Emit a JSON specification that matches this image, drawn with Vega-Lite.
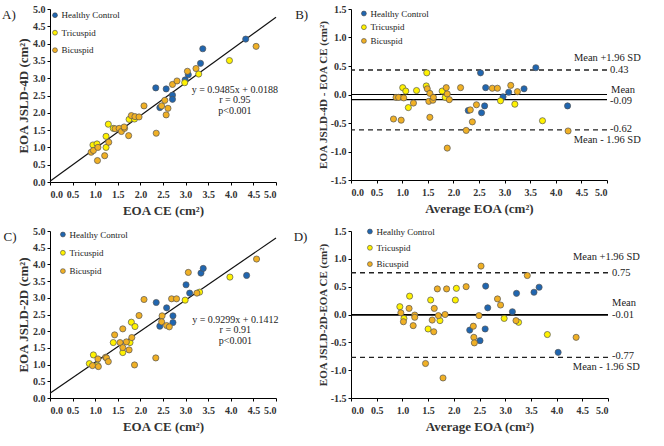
{
  "$schema": "https://vega.github.io/schema/vega-lite/v6.json",
  "background": "white",
  "padding": {"left": 2, "top": 4, "right": 5, "bottom": 5},
  "config": {
    "locale": {"number": {"decimal": ".", "thousands": ",", "grouping": [3], "currency": ["$", ""], "minus": "-"}},
    "view": {"stroke": null},
    "font": "Liberation Serif",
    "axis": {
      "labelFont": "Liberation Serif", "labelFontWeight": "bold", "labelFontSize": 10, "labelColor": "#333",
      "titleFont": "Liberation Serif", "titleFontWeight": "bold", "titleFontSize": 13, "titleColor": "#333",
      "domainColor": "#000", "domainWidth": 1, "tickColor": "#000", "tickSize": 3, "grid": false,
      "labelPadding": 2, "titlePadding": 2, "labelOverlap": false
    },
    "axisX": {"labelPadding": 4, "titlePadding": 5},
    "legend": {
      "title": null, "padding": 0, "symbolSize": 24, "symbolType": "circle",
      "symbolStrokeColor": "#444", "symbolStrokeWidth": 0.6,
      "labelFont": "Liberation Serif", "labelFontSize": 9, "labelColor": "#222", "labelOffset": 2
    },
    "title": {"font": "Liberation Serif", "fontSize": 13, "fontWeight": "normal", "color": "#222"}
  },
  "datasets": {
    "a": [
      {"x": 2.34, "y": 2.72, "group": "Healthy Control"},
      {"x": 3.38, "y": 3.85, "group": "Healthy Control"},
      {"x": 2.57, "y": 2.69, "group": "Healthy Control"},
      {"x": 3.33, "y": 3.43, "group": "Healthy Control"},
      {"x": 3.06, "y": 3.10, "group": "Healthy Control"},
      {"x": 2.99, "y": 2.95, "group": "Healthy Control"},
      {"x": 2.71, "y": 2.51, "group": "Healthy Control"},
      {"x": 2.71, "y": 2.39, "group": "Healthy Control"},
      {"x": 4.33, "y": 4.13, "group": "Healthy Control"},
      {"x": 2.43, "y": 2.15, "group": "Healthy Control"},
      {"x": 1.29, "y": 1.67, "group": "Tricuspid"},
      {"x": 0.95, "y": 1.07, "group": "Tricuspid"},
      {"x": 1.04, "y": 1.10, "group": "Tricuspid"},
      {"x": 1.24, "y": 1.32, "group": "Tricuspid"},
      {"x": 1.40, "y": 1.55, "group": "Tricuspid"},
      {"x": 1.75, "y": 1.81, "group": "Tricuspid"},
      {"x": 1.87, "y": 1.82, "group": "Tricuspid"},
      {"x": 1.24, "y": 1.00, "group": "Tricuspid"},
      {"x": 2.98, "y": 2.87, "group": "Tricuspid"},
      {"x": 3.29, "y": 3.12, "group": "Tricuspid"},
      {"x": 3.97, "y": 3.51, "group": "Tricuspid"},
      {"x": 0.91, "y": 0.86, "group": "Bicuspid"},
      {"x": 0.96, "y": 0.91, "group": "Bicuspid"},
      {"x": 1.06, "y": 1.00, "group": "Bicuspid"},
      {"x": 1.30, "y": 1.15, "group": "Bicuspid"},
      {"x": 1.44, "y": 1.54, "group": "Bicuspid"},
      {"x": 1.53, "y": 1.55, "group": "Bicuspid"},
      {"x": 1.58, "y": 1.46, "group": "Bicuspid"},
      {"x": 1.65, "y": 1.55, "group": "Bicuspid"},
      {"x": 1.64, "y": 1.59, "group": "Bicuspid"},
      {"x": 1.80, "y": 1.92, "group": "Bicuspid"},
      {"x": 1.88, "y": 1.89, "group": "Bicuspid"},
      {"x": 1.97, "y": 1.88, "group": "Bicuspid"},
      {"x": 2.08, "y": 2.20, "group": "Bicuspid"},
      {"x": 1.05, "y": 0.62, "group": "Bicuspid"},
      {"x": 1.21, "y": 0.76, "group": "Bicuspid"},
      {"x": 1.74, "y": 1.34, "group": "Bicuspid"},
      {"x": 2.35, "y": 1.41, "group": "Bicuspid"},
      {"x": 2.57, "y": 1.94, "group": "Bicuspid"},
      {"x": 2.61, "y": 2.13, "group": "Bicuspid"},
      {"x": 2.47, "y": 2.20, "group": "Bicuspid"},
      {"x": 2.54, "y": 2.36, "group": "Bicuspid"},
      {"x": 2.71, "y": 2.82, "group": "Bicuspid"},
      {"x": 2.81, "y": 2.92, "group": "Bicuspid"},
      {"x": 3.04, "y": 3.20, "group": "Bicuspid"},
      {"x": 3.23, "y": 3.28, "group": "Bicuspid"},
      {"x": 4.56, "y": 3.92, "group": "Bicuspid"}
    ],
    "b": [
      {"avg": 2.53, "diff": 0.38, "group": "Healthy Control"},
      {"avg": 3.61, "diff": 0.47, "group": "Healthy Control"},
      {"avg": 2.63, "diff": 0.12, "group": "Healthy Control"},
      {"avg": 3.38, "diff": 0.10, "group": "Healthy Control"},
      {"avg": 3.08, "diff": 0.04, "group": "Healthy Control"},
      {"avg": 2.97, "diff": -0.04, "group": "Healthy Control"},
      {"avg": 2.61, "diff": -0.20, "group": "Healthy Control"},
      {"avg": 2.55, "diff": -0.32, "group": "Healthy Control"},
      {"avg": 4.23, "diff": -0.20, "group": "Healthy Control"},
      {"avg": 2.29, "diff": -0.28, "group": "Healthy Control"},
      {"avg": 1.48, "diff": 0.38, "group": "Tricuspid"},
      {"avg": 1.01, "diff": 0.12, "group": "Tricuspid"},
      {"avg": 1.07, "diff": 0.06, "group": "Tricuspid"},
      {"avg": 1.28, "diff": 0.07, "group": "Tricuspid"},
      {"avg": 1.47, "diff": 0.15, "group": "Tricuspid"},
      {"avg": 1.78, "diff": 0.06, "group": "Tricuspid"},
      {"avg": 1.84, "diff": -0.05, "group": "Tricuspid"},
      {"avg": 1.12, "diff": -0.23, "group": "Tricuspid"},
      {"avg": 2.92, "diff": -0.11, "group": "Tricuspid"},
      {"avg": 3.20, "diff": -0.17, "group": "Tricuspid"},
      {"avg": 3.74, "diff": -0.46, "group": "Tricuspid"},
      {"avg": 0.88, "diff": -0.05, "group": "Bicuspid"},
      {"avg": 0.93, "diff": -0.05, "group": "Bicuspid"},
      {"avg": 1.03, "diff": -0.06, "group": "Bicuspid"},
      {"avg": 1.22, "diff": -0.15, "group": "Bicuspid"},
      {"avg": 1.49, "diff": 0.10, "group": "Bicuspid"},
      {"avg": 1.54, "diff": 0.02, "group": "Bicuspid"},
      {"avg": 1.52, "diff": -0.12, "group": "Bicuspid"},
      {"avg": 1.60, "diff": -0.10, "group": "Bicuspid"},
      {"avg": 1.61, "diff": -0.05, "group": "Bicuspid"},
      {"avg": 1.86, "diff": 0.12, "group": "Bicuspid"},
      {"avg": 1.88, "diff": 0.01, "group": "Bicuspid"},
      {"avg": 1.92, "diff": -0.09, "group": "Bicuspid"},
      {"avg": 2.14, "diff": 0.12, "group": "Bicuspid"},
      {"avg": 0.83, "diff": -0.43, "group": "Bicuspid"},
      {"avg": 0.98, "diff": -0.45, "group": "Bicuspid"},
      {"avg": 1.54, "diff": -0.40, "group": "Bicuspid"},
      {"avg": 1.88, "diff": -0.94, "group": "Bicuspid"},
      {"avg": 2.25, "diff": -0.63, "group": "Bicuspid"},
      {"avg": 2.37, "diff": -0.48, "group": "Bicuspid"},
      {"avg": 2.33, "diff": -0.27, "group": "Bicuspid"},
      {"avg": 2.45, "diff": -0.18, "group": "Bicuspid"},
      {"avg": 2.76, "diff": 0.11, "group": "Bicuspid"},
      {"avg": 2.86, "diff": 0.11, "group": "Bicuspid"},
      {"avg": 3.12, "diff": 0.16, "group": "Bicuspid"},
      {"avg": 3.25, "diff": 0.05, "group": "Bicuspid"},
      {"avg": 4.24, "diff": -0.64, "group": "Bicuspid"}
    ],
    "c": [
      {"x": 2.35, "y": 2.86, "group": "Healthy Control"},
      {"x": 2.58, "y": 2.70, "group": "Healthy Control"},
      {"x": 3.01, "y": 3.39, "group": "Healthy Control"},
      {"x": 3.34, "y": 3.74, "group": "Healthy Control"},
      {"x": 3.39, "y": 3.88, "group": "Healthy Control"},
      {"x": 3.09, "y": 3.14, "group": "Healthy Control"},
      {"x": 2.43, "y": 2.15, "group": "Healthy Control"},
      {"x": 2.72, "y": 2.46, "group": "Healthy Control"},
      {"x": 2.72, "y": 2.26, "group": "Healthy Control"},
      {"x": 4.35, "y": 3.67, "group": "Healthy Control"},
      {"x": 0.87, "y": 1.03, "group": "Tricuspid"},
      {"x": 0.96, "y": 1.29, "group": "Tricuspid"},
      {"x": 1.05, "y": 0.98, "group": "Tricuspid"},
      {"x": 1.40, "y": 1.66, "group": "Tricuspid"},
      {"x": 1.61, "y": 1.36, "group": "Tricuspid"},
      {"x": 1.77, "y": 1.66, "group": "Tricuspid"},
      {"x": 1.80, "y": 2.27, "group": "Tricuspid"},
      {"x": 1.88, "y": 2.14, "group": "Tricuspid"},
      {"x": 2.99, "y": 2.93, "group": "Tricuspid"},
      {"x": 3.31, "y": 3.17, "group": "Tricuspid"},
      {"x": 3.98, "y": 3.62, "group": "Tricuspid"},
      {"x": 2.08, "y": 2.95, "group": "Bicuspid"},
      {"x": 3.06, "y": 3.76, "group": "Bicuspid"},
      {"x": 1.97, "y": 2.47, "group": "Bicuspid"},
      {"x": 1.43, "y": 1.89, "group": "Bicuspid"},
      {"x": 1.61, "y": 2.07, "group": "Bicuspid"},
      {"x": 2.69, "y": 2.97, "group": "Bicuspid"},
      {"x": 2.80, "y": 2.97, "group": "Bicuspid"},
      {"x": 1.06, "y": 1.17, "group": "Bicuspid"},
      {"x": 1.55, "y": 1.66, "group": "Bicuspid"},
      {"x": 0.94, "y": 0.97, "group": "Bicuspid"},
      {"x": 1.23, "y": 1.22, "group": "Bicuspid"},
      {"x": 1.25, "y": 1.20, "group": "Bicuspid"},
      {"x": 1.69, "y": 1.68, "group": "Bicuspid"},
      {"x": 1.81, "y": 1.81, "group": "Bicuspid"},
      {"x": 2.48, "y": 2.46, "group": "Bicuspid"},
      {"x": 1.07, "y": 0.94, "group": "Bicuspid"},
      {"x": 1.29, "y": 1.09, "group": "Bicuspid"},
      {"x": 1.61, "y": 1.51, "group": "Bicuspid"},
      {"x": 1.75, "y": 1.44, "group": "Bicuspid"},
      {"x": 2.47, "y": 2.28, "group": "Bicuspid"},
      {"x": 2.58, "y": 2.17, "group": "Bicuspid"},
      {"x": 2.64, "y": 2.13, "group": "Bicuspid"},
      {"x": 3.25, "y": 3.14, "group": "Bicuspid"},
      {"x": 4.57, "y": 4.16, "group": "Bicuspid"},
      {"x": 1.87, "y": 0.99, "group": "Bicuspid"},
      {"x": 2.34, "y": 1.20, "group": "Bicuspid"}
    ],
    "d": [
      {"avg": 2.62, "diff": 0.51, "group": "Healthy Control"},
      {"avg": 2.66, "diff": 0.12, "group": "Healthy Control"},
      {"avg": 3.22, "diff": 0.38, "group": "Healthy Control"},
      {"avg": 3.56, "diff": 0.40, "group": "Healthy Control"},
      {"avg": 3.66, "diff": 0.49, "group": "Healthy Control"},
      {"avg": 3.14, "diff": 0.05, "group": "Healthy Control"},
      {"avg": 2.31, "diff": -0.28, "group": "Healthy Control"},
      {"avg": 2.61, "diff": -0.26, "group": "Healthy Control"},
      {"avg": 2.51, "diff": -0.47, "group": "Healthy Control"},
      {"avg": 4.03, "diff": -0.68, "group": "Healthy Control"},
      {"avg": 0.95, "diff": 0.14, "group": "Tricuspid"},
      {"avg": 1.14, "diff": 0.33, "group": "Tricuspid"},
      {"avg": 1.03, "diff": -0.07, "group": "Tricuspid"},
      {"avg": 1.55, "diff": 0.26, "group": "Tricuspid"},
      {"avg": 1.50, "diff": -0.26, "group": "Tricuspid"},
      {"avg": 1.73, "diff": -0.11, "group": "Tricuspid"},
      {"avg": 2.05, "diff": 0.47, "group": "Tricuspid"},
      {"avg": 2.03, "diff": 0.26, "group": "Tricuspid"},
      {"avg": 2.98, "diff": -0.07, "group": "Tricuspid"},
      {"avg": 3.26, "diff": -0.14, "group": "Tricuspid"},
      {"avg": 3.82, "diff": -0.36, "group": "Tricuspid"},
      {"avg": 2.53, "diff": 0.87, "group": "Bicuspid"},
      {"avg": 3.43, "diff": 0.70, "group": "Bicuspid"},
      {"avg": 2.24, "diff": 0.50, "group": "Bicuspid"},
      {"avg": 1.68, "diff": 0.46, "group": "Bicuspid"},
      {"avg": 1.86, "diff": 0.46, "group": "Bicuspid"},
      {"avg": 2.85, "diff": 0.28, "group": "Bicuspid"},
      {"avg": 2.91, "diff": 0.17, "group": "Bicuspid"},
      {"avg": 1.13, "diff": 0.11, "group": "Bicuspid"},
      {"avg": 1.62, "diff": 0.11, "group": "Bicuspid"},
      {"avg": 0.97, "diff": 0.03, "group": "Bicuspid"},
      {"avg": 1.24, "diff": -0.01, "group": "Bicuspid"},
      {"avg": 1.24, "diff": -0.05, "group": "Bicuspid"},
      {"avg": 1.70, "diff": -0.02, "group": "Bicuspid"},
      {"avg": 1.83, "diff": 0.00, "group": "Bicuspid"},
      {"avg": 2.49, "diff": -0.02, "group": "Bicuspid"},
      {"avg": 1.02, "diff": -0.13, "group": "Bicuspid"},
      {"avg": 1.21, "diff": -0.20, "group": "Bicuspid"},
      {"avg": 1.58, "diff": -0.10, "group": "Bicuspid"},
      {"avg": 1.61, "diff": -0.31, "group": "Bicuspid"},
      {"avg": 2.38, "diff": -0.21, "group": "Bicuspid"},
      {"avg": 2.39, "diff": -0.41, "group": "Bicuspid"},
      {"avg": 2.40, "diff": -0.51, "group": "Bicuspid"},
      {"avg": 3.21, "diff": -0.11, "group": "Bicuspid"},
      {"avg": 4.38, "diff": -0.41, "group": "Bicuspid"},
      {"avg": 1.45, "diff": -0.88, "group": "Bicuspid"},
      {"avg": 1.79, "diff": -1.14, "group": "Bicuspid"}
    ],
    "fitA": [{"x": 0, "y": 0.0188}, {"x": 5, "y": 4.7613}],
    "fitC": [{"x": 0, "y": 0.1412}, {"x": 5, "y": 4.7907}],
    "one": [{}]
  },
  "columns": 2,
  "spacing": {"row": 9, "column": 14},
  "resolve": {"scale": {"color": "independent"}, "legend": {"color": "independent"}},
  "concat": [
    {
      "width": 226, "height": 173,
      "title": {"text": "A)", "orient": "left", "anchor": "end", "frame": "group", "angle": 0, "align": "right", "baseline": "top", "offset": -12},
      "layer": [
        {"data": {"name": "fitA"}, "mark": {"type": "line", "color": "#111", "strokeWidth": 1.2},
          "encoding": {
            "x": {"field": "x", "type": "quantitative", "scale": {"domain": [0, 5], "nice": false}, "axis": {"values": [0, 0.5, 1, 1.5, 2, 2.5, 3, 3.5, 4, 4.5, 5], "tickCount": 30, "format": ".1f", "labelOverlap": false, "title": "EOA CE (cm²)"}},
            "y": {"field": "y", "type": "quantitative", "scale": {"domain": [0, 5], "nice": false}, "axis": {"values": [0, 0.5, 1, 1.5, 2, 2.5, 3, 3.5, 4, 4.5, 5], "tickCount": 30, "format": ".1f", "labelOverlap": false, "title": "EOA JSLD-4D (cm²)"}}
          }},
        {"data": {"name": "a"}, "mark": {"type": "circle", "size": 38, "opacity": 1, "stroke": "#555", "strokeWidth": 0.7},
          "encoding": {
            "x": {"field": "x", "type": "quantitative", "title": "EOA CE (cm²)"},
            "y": {"field": "y", "type": "quantitative", "title": "EOA JSLD-4D (cm²)"},
            "color": {"field": "group", "type": "nominal", "scale": {"domain": ["Healthy Control", "Tricuspid", "Bicuspid"], "range": ["#2066B0", "#FFF200", "#F0B025"]},
            "legend": {"orient": "none", "legendX": 0.5, "legendY": 1.7, "rowPadding": 7.5}}}},
        {"data": {"name": "one"}, "mark": {"type": "text", "text": "y = 0.9485x + 0.0188", "align": "center", "baseline": "middle", "fontSize": 10, "color": "#222"}, "encoding": {"x": {"datum": 4.09}, "y": {"datum": 2.66}}},
        {"data": {"name": "one"}, "mark": {"type": "text", "text": "r = 0.95", "align": "center", "baseline": "middle", "fontSize": 10, "color": "#222"}, "encoding": {"x": {"datum": 4.09}, "y": {"datum": 2.38}}},
        {"data": {"name": "one"}, "mark": {"type": "text", "text": "p<0.001", "align": "center", "baseline": "middle", "fontSize": 10, "color": "#222"}, "encoding": {"x": {"datum": 4.09}, "y": {"datum": 2.06}}}
      ]
    },
    {
      "width": 256, "height": 171,
      "title": {"text": "B)", "orient": "left", "anchor": "end", "frame": "group", "angle": 0, "align": "right", "baseline": "top", "offset": -4},
      "layer": [
        {"data": {"name": "one"}, "mark": {"type": "rule", "color": "#000", "strokeWidth": 1}, "encoding": {"y": {"datum": 0}}},
        {"data": {"name": "one"}, "mark": {"type": "rule", "color": "#000", "strokeWidth": 1.2}, "encoding": {"y": {"datum": -0.09}}},
        {"data": {"name": "one"}, "mark": {"type": "rule", "color": "#222", "strokeWidth": 1.3, "strokeDash": [5, 4]}, "encoding": {"y": {"datum": 0.43}}},
        {"data": {"name": "one"}, "mark": {"type": "rule", "color": "#222", "strokeWidth": 1.3, "strokeDash": [5, 4]}, "encoding": {"y": {"datum": -0.62}}},
        {"data": {"name": "b"}, "mark": {"type": "circle", "size": 38, "opacity": 1, "stroke": "#555", "strokeWidth": 0.7},
          "encoding": {
            "x": {"field": "avg", "type": "quantitative", "scale": {"domain": [0, 5], "nice": false}, "axis": {"values": [0, 0.5, 1, 1.5, 2, 2.5, 3, 3.5, 4, 4.5, 5], "tickCount": 30, "format": ".1f", "labelOverlap": false, "title": "Average EOA (cm²)"}},
            "y": {"field": "diff", "type": "quantitative", "scale": {"domain": [-1.5, 1.5], "nice": false}, "axis": {"values": [-1.5, -1, -0.5, 0, 0.5, 1, 1.5], "tickCount": 30, "format": ".1f", "labelOverlap": false, "title": "EOA JSLD-4D - EOA CE (cm²)", "titleFontSize": 11}},
            "color": {"field": "group", "type": "nominal", "scale": {"domain": ["Healthy Control", "Tricuspid", "Bicuspid"], "range": ["#2066B0", "#FFF200", "#F0B025"]},
              "legend": {"orient": "none", "legendX": 8.4, "legendY": 0, "rowPadding": 3.7}}}},
        {"data": {"name": "one"}, "mark": {"type": "text", "text": "Mean +1.96 SD", "align": "right", "baseline": "middle", "fontSize": 10.5, "color": "#222"}, "encoding": {"x": {"datum": 5.66}, "y": {"datum": 0.635}}},
        {"data": {"name": "one"}, "mark": {"type": "text", "text": "0.43", "align": "left", "baseline": "middle", "fontSize": 10.5, "color": "#222"}, "encoding": {"x": {"datum": 5.06}, "y": {"datum": 0.43}}},
        {"data": {"name": "one"}, "mark": {"type": "text", "text": "Mean", "align": "left", "baseline": "middle", "fontSize": 10.5, "color": "#222"}, "encoding": {"x": {"datum": 5.08}, "y": {"datum": 0.08}}},
        {"data": {"name": "one"}, "mark": {"type": "text", "text": "-0.09", "align": "left", "baseline": "middle", "fontSize": 10.5, "color": "#222"}, "encoding": {"x": {"datum": 5.06}, "y": {"datum": -0.11}}},
        {"data": {"name": "one"}, "mark": {"type": "text", "text": "-0.62", "align": "left", "baseline": "middle", "fontSize": 10.5, "color": "#222"}, "encoding": {"x": {"datum": 5.06}, "y": {"datum": -0.6}}},
        {"data": {"name": "one"}, "mark": {"type": "text", "text": "Mean - 1.96 SD", "align": "right", "baseline": "middle", "fontSize": 10.5, "color": "#222"}, "encoding": {"x": {"datum": 5.66}, "y": {"datum": -0.79}}}
      ]
    },
    {
      "width": 226, "height": 167,
      "title": {"text": "C)", "orient": "left", "anchor": "end", "frame": "group", "angle": 0, "align": "right", "baseline": "top", "offset": -12},
      "layer": [
        {"data": {"name": "fitC"}, "mark": {"type": "line", "color": "#111", "strokeWidth": 1.2},
          "encoding": {
            "x": {"field": "x", "type": "quantitative", "scale": {"domain": [0, 5], "nice": false}, "axis": {"values": [0, 0.5, 1, 1.5, 2, 2.5, 3, 3.5, 4, 4.5, 5], "tickCount": 30, "format": ".1f", "labelOverlap": false, "title": "EOA CE (cm²)"}},
            "y": {"field": "y", "type": "quantitative", "scale": {"domain": [0, 5], "nice": false}, "axis": {"values": [0, 0.5, 1, 1.5, 2, 2.5, 3, 3.5, 4, 4.5, 5], "tickCount": 30, "format": ".1f", "labelOverlap": false, "title": "EOA JSLD-2D (cm²)"}}
          }},
        {"data": {"name": "c"}, "mark": {"type": "circle", "size": 38, "opacity": 1, "stroke": "#555", "strokeWidth": 0.7},
          "encoding": {
            "x": {"field": "x", "type": "quantitative", "title": "EOA CE (cm²)"},
            "y": {"field": "y", "type": "quantitative", "title": "EOA JSLD-2D (cm²)"},
            "color": {"field": "group", "type": "nominal", "scale": {"domain": ["Healthy Control", "Tricuspid", "Bicuspid"], "range": ["#2066B0", "#FFF200", "#F0B025"]},
            "legend": {"orient": "none", "legendX": 8.4, "legendY": -1, "rowPadding": 8.3}}}},
        {"data": {"name": "one"}, "mark": {"type": "text", "text": "y = 0.9299x + 0.1412", "align": "center", "baseline": "middle", "fontSize": 10, "color": "#222"}, "encoding": {"x": {"datum": 4.1}, "y": {"datum": 2.34}}},
        {"data": {"name": "one"}, "mark": {"type": "text", "text": "r = 0.91", "align": "center", "baseline": "middle", "fontSize": 10, "color": "#222"}, "encoding": {"x": {"datum": 4.1}, "y": {"datum": 2.03}}},
        {"data": {"name": "one"}, "mark": {"type": "text", "text": "p<0.001", "align": "center", "baseline": "middle", "fontSize": 10, "color": "#222"}, "encoding": {"x": {"datum": 4.1}, "y": {"datum": 1.71}}}
      ]
    },
    {
      "width": 257, "height": 167,
      "title": {"text": "D)", "orient": "left", "anchor": "end", "frame": "group", "angle": 0, "align": "right", "baseline": "top", "offset": -4},
      "layer": [
        {"data": {"name": "one"}, "mark": {"type": "rule", "color": "#000", "strokeWidth": 1}, "encoding": {"y": {"datum": 0}}},
        {"data": {"name": "one"}, "mark": {"type": "rule", "color": "#000", "strokeWidth": 1.2}, "encoding": {"y": {"datum": -0.01}}},
        {"data": {"name": "one"}, "mark": {"type": "rule", "color": "#222", "strokeWidth": 1.3, "strokeDash": [5, 4]}, "encoding": {"y": {"datum": 0.75}}},
        {"data": {"name": "one"}, "mark": {"type": "rule", "color": "#222", "strokeWidth": 1.3, "strokeDash": [5, 4]}, "encoding": {"y": {"datum": -0.77}}},
        {"data": {"name": "d"}, "mark": {"type": "circle", "size": 38, "opacity": 1, "stroke": "#555", "strokeWidth": 0.7},
          "encoding": {
            "x": {"field": "avg", "type": "quantitative", "scale": {"domain": [0, 5], "nice": false}, "axis": {"values": [0, 0.5, 1, 1.5, 2, 2.5, 3, 3.5, 4, 4.5, 5], "tickCount": 30, "format": ".1f", "labelOverlap": false, "title": "Average EOA (cm²)"}},
            "y": {"field": "diff", "type": "quantitative", "scale": {"domain": [-1.5, 1.5], "nice": false}, "axis": {"values": [-1.5, -1, -0.5, 0, 0.5, 1, 1.5], "tickCount": 30, "format": ".1f", "labelOverlap": false, "title": "EOA JSLD-2D-EOA CE (cm²)", "titleFontSize": 11}},
            "color": {"field": "group", "type": "nominal", "scale": {"domain": ["Healthy Control", "Tricuspid", "Bicuspid"], "range": ["#2066B0", "#FFF200", "#F0B025"]},
              "legend": {"orient": "none", "legendX": 14.4, "legendY": -4, "rowPadding": 6.3}}}},
        {"data": {"name": "one"}, "mark": {"type": "text", "text": "Mean +1.96 SD", "align": "right", "baseline": "middle", "fontSize": 10.5, "color": "#222"}, "encoding": {"x": {"datum": 5.62}, "y": {"datum": 1.03}}},
        {"data": {"name": "one"}, "mark": {"type": "text", "text": "0.75", "align": "left", "baseline": "middle", "fontSize": 10.5, "color": "#222"}, "encoding": {"x": {"datum": 5.08}, "y": {"datum": 0.75}}},
        {"data": {"name": "one"}, "mark": {"type": "text", "text": "Mean", "align": "left", "baseline": "middle", "fontSize": 10.5, "color": "#222"}, "encoding": {"x": {"datum": 5.08}, "y": {"datum": 0.2}}},
        {"data": {"name": "one"}, "mark": {"type": "text", "text": "-0.01", "align": "left", "baseline": "middle", "fontSize": 10.5, "color": "#222"}, "encoding": {"x": {"datum": 5.08}, "y": {"datum": -0.01}}},
        {"data": {"name": "one"}, "mark": {"type": "text", "text": "-0.77", "align": "left", "baseline": "middle", "fontSize": 10.5, "color": "#222"}, "encoding": {"x": {"datum": 5.08}, "y": {"datum": -0.74}}},
        {"data": {"name": "one"}, "mark": {"type": "text", "text": "Mean - 1.96 SD", "align": "right", "baseline": "middle", "fontSize": 10.5, "color": "#222"}, "encoding": {"x": {"datum": 5.62}, "y": {"datum": -0.94}}}
      ]
    }
  ]
}
